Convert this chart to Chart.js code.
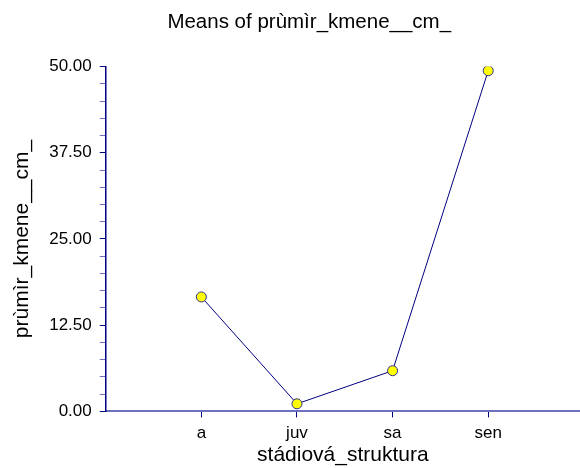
<!DOCTYPE html>
<html>
<head>
<meta charset="utf-8">
<script src="https://cdn.jsdelivr.net/npm/chart.js@4"></script>
<style>
  html, body { margin: 0; padding: 0; background: #fff; overflow: hidden; }
  #wrap { width: 580px; height: 468px; }
</style>
</head>
<body>
<div id="wrap"><canvas id="means"></canvas></div>
<script>
const categories = ["a", "juv", "sa", "sen"];
const means = [16.6, 1.1, 5.9, 49.4];
const yTicks = [0, 12.5, 25, 37.5, 50];

const navy = "#000080";
const lightNavy = "#7070c0";
const font = "'Liberation Sans', Arial, sans-serif";

const points = means.map((v, i) => ({x: i + 1, y: v}));

new Chart("means", {
  type: "line",
  data: {
    datasets: [{
      data: points,
      borderColor: navy,
      borderWidth: 1,
      backgroundColor: "#ffff00",
      pointBackgroundColor: "#ffff00",
      pointBorderColor: "#303090",
      pointBorderWidth: 1,
      pointRadius: 5,
      lineTension: 0,
      fill: false
    }]
  },
  options: {
    responsive: true,
    maintainAspectRatio: false,
    animation: false,
    layout: {autoPadding: false, padding: {left: 10, right: 0, bottom: 0}},
    plugins: {
      legend: {display: false},
      tooltip: {enabled: false},
      title: {
        display: true,
        text: "     Means of prùmìr_kmene__cm_",
        color: "#000",
        font: {family: font, size: 20.5, weight: "normal"},
        padding: {top: 10, bottom: 32}
      }
    },
    scales: {
      x: {
        type: "linear",
        min: 0,
        max: 4.96,
        afterBuildTicks: (scale) => {
          const t = [];
          for (let k = 0; k <= 24; k++) t.push({value: k / 5});
          scale.ticks = t;
        },
        ticks: {
          autoSkip: false,
          maxRotation: 0,
          padding: 6,
          color: "#000",
          font: {family: font, size: 17},
          callback: (v) => {
            const i = Math.round(v * 5);
            if (i % 5 !== 0) return "";
            return categories[i / 5 - 1] || "";
          }
        },
        grid: {
          drawOnChartArea: false,
          drawTicks: true,
          tickLength: 6,
          tickWidth: 1,
          tickColor: (ctx) => {
            const i = Math.round(ctx.tick.value * 5);
            return (i % 5 === 0 && i > 0) ? navy : "rgba(0,0,0,0)";
          }
        },
        border: {display: true, color: lightNavy, width: 2},
        title: {
          display: true,
          text: "stádiová_struktura",
          color: "#000",
          font: {family: font, size: 21},
          padding: {top: -7, bottom: 0}
        }
      },
      y: {
        type: "linear",
        min: 0,
        max: 50,
        afterBuildTicks: (scale) => {
          const t = [];
          for (let k = 0; k <= 20; k++) t.push({value: k * 2.5});
          scale.ticks = t;
        },
        ticks: {
          autoSkip: false,
          padding: 8,
          color: "#000",
          font: {family: font, size: 17},
          callback: (v) => yTicks.includes(v) ? v.toFixed(2) : ""
        },
        grid: {
          drawOnChartArea: false,
          drawTicks: true,
          tickLength: 6,
          tickColor: (ctx) => yTicks.includes(ctx.tick.value) ? navy : lightNavy
        },
        border: {display: true, color: navy, width: 1.5},
        title: {
          display: true,
          text: "prùmìr_kmene__cm_",
          color: "#000",
          font: {family: font, size: 21},
          padding: {top: 0, bottom: 6}
        }
      }
    }
  }
});
</script>
</body>
</html>
